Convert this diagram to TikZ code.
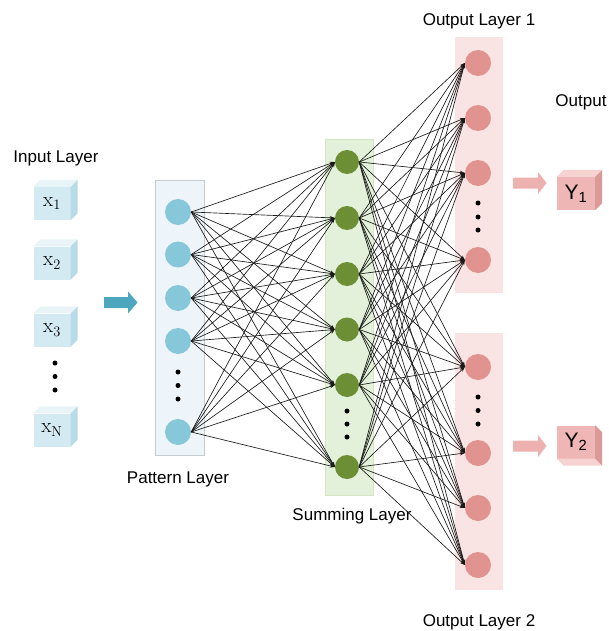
\documentclass[tikz,border=0pt]{standalone}
\usepackage[no-math]{fontspec}
\setmainfont{Liberation Sans}
\usetikzlibrary{arrows.meta}
\definecolor{cubefront}{HTML}{D4EAF2}
\definecolor{cubetop}{HTML}{E8F4F8}
\definecolor{cubeside}{HTML}{B8DBE7}
\definecolor{yfront}{HTML}{EEB6B4}
\definecolor{ytop}{HTML}{F6D2D0}
\definecolor{yside}{HTML}{DA9A97}
\definecolor{pfill}{HTML}{EEF5FA}
\definecolor{pborder}{HTML}{C3CDD3}
\definecolor{sfill}{HTML}{E3F1DA}
\definecolor{sborder}{HTML}{D2E6C3}
\definecolor{ofill}{HTML}{FAE4E3}
\definecolor{pcirc}{HTML}{86C8DA}
\definecolor{scirc}{HTML}{6C8F35}
\definecolor{ocirc}{HTML}{E0938F}
\definecolor{barrow}{HTML}{4DA7BF}
\definecolor{parrow}{HTML}{EDB2AF}
\tikzset{
  lbl/.style={font=\fontsize{17}{20}\selectfont, inner sep=0pt},
  xcube/.style={fill=cubefront, minimum width=37pt, minimum height=33pt, inner sep=0pt, font=\fontsize{21}{24}\selectfont},
  ycube/.style={fill=yfront, minimum width=38pt, minimum height=33pt, inner sep=0pt, font=\fontsize{21}{24}\selectfont},
  pnode/.style={circle, fill=pcirc, minimum size=26pt, inner sep=0pt},
  snode/.style={circle, fill=scirc, minimum size=24pt, inner sep=0pt},
  onode/.style={circle, fill=ocirc, minimum size=26pt, inner sep=0pt},
  dotn/.style={circle, fill=black, minimum size=5pt, inner sep=0pt},
  edge/.style={line width=0.65pt, draw=black!90, -{Stealth[length=5pt,width=3.5pt]}},
}
\begin{document}
\begin{tikzpicture}[x=1pt,y=-1pt]
\useasboundingbox (0,0) rectangle (609,631);
% layer boxes
\fill[pfill, draw=pborder, line width=0.8pt] (155,180) rectangle (204,455);
\fill[sfill, draw=sborder, line width=0.8pt] (325,139) rectangle (373,495);
\fill[ofill] (455,37) rectangle (503,293);
\fill[ofill] (455,333) rectangle (503,590);
% labels
\node[lbl] (tin) at (56,158) {Input Layer};
\node[lbl] (tpat) at (178,479) {Pattern Layer};
\node[lbl] (tsum) at (352,516) {Summing Layer};
\node[lbl] (to1) at (479,21) {Output Layer 1};
\node[lbl] (to2) at (479,622) {Output Layer 2};
\node[lbl] (tout) at (581,102) {Output};
% input cubes
\foreach \n/\y/\t in {x1/203.5/1, x2/263/2, x3/330/3, xN/430/\mathrm{N}} {
  \node[xcube] (\n) at (52,\y) {$\mathrm{x}_{\t}$};
  \fill[cubetop] (\n.north west) -- ++(7,-7) -- ([xshift=7pt,yshift=7pt]\n.north east) -- (\n.north east) -- cycle;
  \fill[cubeside] (\n.north east) -- ++(7,-7) -- ([xshift=7pt,yshift=7pt]\n.south east) -- (\n.south east) -- cycle;
}
\node[dotn] (ind1) at (55,363) {};
\node[dotn] (ind2) at (55,376.5) {};
\node[dotn] (ind3) at (55,390) {};
% blue arrow
\fill[barrow] (104,297) -- (128,297) -- (128,291.5) -- (137.5,302.5) -- (128,313.5) -- (128,308) -- (104,308) -- cycle;
% pattern nodes
\foreach \i/\y in {1/212, 2/254.5, 3/298, 4/341, 5/432} {
  \node[pnode] (p\i) at (178,\y) {};
}
\foreach \i/\y in {1/372, 2/385.5, 3/399} { \node[dotn] (pd\i) at (178,\y) {}; }
% summing nodes
\foreach \i/\y in {1/162, 2/218, 3/274, 4/329.5, 5/385, 6/467} {
  \node[snode] (s\i) at (347,\y) {};
}
\foreach \i/\y in {1/411, 2/424, 3/437} { \node[dotn] (sd\i) at (347,\y) {}; }
% output nodes
\foreach \i/\y in {1/63, 2/118, 3/173, 4/260} { \node[onode] (o\i) at (478,\y) {}; }
\foreach \i/\y in {1/203, 2/217, 3/230} { \node[dotn] (od\i) at (478,\y) {}; }
\foreach \i/\y in {1/367, 2/453, 3/508, 4/565} { \node[onode] (q\i) at (478,\y) {}; }
\foreach \i/\y in {1/397, 2/410.5, 3/424} { \node[dotn] (qd\i) at (478,\y) {}; }
% edges pattern -> summing
\foreach \i in {1,...,5} { \foreach \j in {1,...,6} {
  \draw[edge] (p\i.east) -- (s\j.west);
}}
% edges summing -> outputs
\foreach \i in {1,...,6} { \foreach \j in {1,...,4} {
  \draw[edge] (s\i.east) -- (o\j.west);
  \draw[edge] (s\i.east) -- (q\j.west);
}}
% pink arrows
\fill[parrow] (513,177.5) -- (538,177.5) -- (538,172) -- (546.5,183) -- (538,194) -- (538,188.5) -- (513,188.5) -- cycle;
\fill[parrow] (513,440.5) -- (538,440.5) -- (538,435) -- (546.5,446) -- (538,457) -- (538,451.5) -- (513,451.5) -- cycle;
% Y cubes
\node[ycube] (y1) at (576,193.5) {Y\textsubscript{1}};
\fill[ytop] (y1.north west) -- ++(7,-7) -- ([xshift=7pt,yshift=7pt]y1.north east) -- (y1.north east) -- cycle;
\fill[yside] (y1.north east) -- ++(7,-7) -- ([xshift=7pt,yshift=7pt]y1.south east) -- (y1.south east) -- cycle;
\node[ycube] (y2) at (576,442) {Y\textsubscript{2}};
\fill[ytop] (y2.south west) -- ++(7,7) -- ([xshift=7pt,yshift=-7pt]y2.south east) -- (y2.south east) -- cycle;
\fill[yside] (y2.north east) -- ++(7,7) -- ([xshift=7pt,yshift=-7pt]y2.south east) -- (y2.south east) -- cycle;
\end{tikzpicture}
\end{document}
